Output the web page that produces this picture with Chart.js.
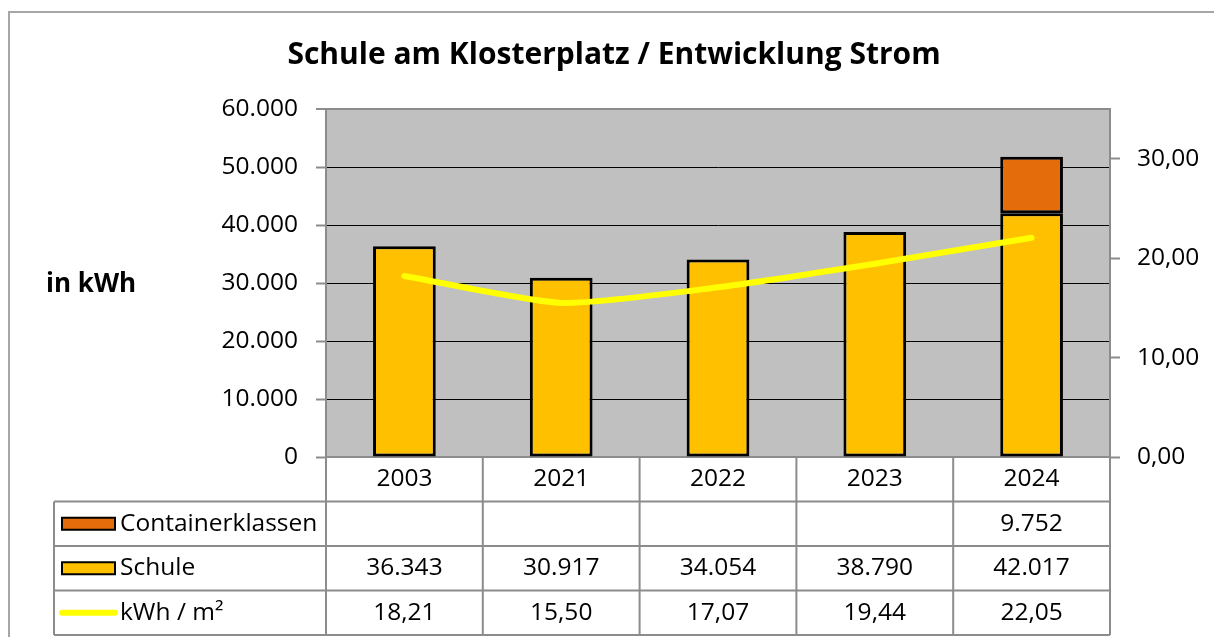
<!DOCTYPE html>
<html lang="de">
<head>
<meta charset="utf-8">
<script src="https://cdn.jsdelivr.net/npm/chart.js@4.4.1/dist/chart.umd.min.js"></script>
<style>
  html, body { margin: 0; padding: 0; background: #fff; overflow: hidden; }
  #frame { position: absolute; left: 8px; top: 11px; width: 1300px; height: 700px; border: 2px solid #a6a6a6; }
  #chart { position: absolute; left: 0; top: 0; }
</style>
</head>
<body>
<div id="frame"></div>
<canvas id="chart" width="1214" height="637"></canvas>
<script>
// Chart data
const years = ['2003', '2021', '2022', '2023', '2024'];
const schule = [36343, 30917, 34054, 38790, 42017];
const container = [null, null, null, null, 9752];
const kwhPerM2 = [18.21, 15.50, 17.07, 19.44, 22.05];
const seriesNames = ['Containerklassen', 'Schule', 'kWh / m²'];

// Axis settings
const leftMax = 60000, leftStep = 10000;
const rightMax = 35, rightStep = 10, rightLastTick = 30;

const FONT = '"Open Sans", "Noto Sans", sans-serif';
const TEXT_SIZE = 24.5;
const GRAY = '#8c8c8c';
const GOLD = '#ffc000';
const ORANGE = '#e46c0a';
const YELLOW = '#ffff00';

function fmtThousands(v) {
    return Math.round(v).toString().replace(/\B(?=(\d{3})+(?!\d))/g, '.');
}
function fmtDecimal(v) {
    return v.toFixed(2).replace('.', ',');
}

// Grey plot background
const plotBackground = {
    id: 'plotBackground',
    beforeDraw(chart) {
        const { ctx, chartArea } = chart;
        ctx.save();
        ctx.fillStyle = '#c0c0c0';
        ctx.fillRect(chartArea.left, chartArea.top, chartArea.right - chartArea.left, chartArea.bottom - chartArea.top);
        ctx.restore();
    }
};

// Title, axis caption and the data table under the plot
const dataTable = {
    id: 'dataTable',
    afterDraw(chart) {
        const { ctx, chartArea, scales } = chart;
        const x = scales.x;
        const colW = (x.right - x.left) / years.length;
        const rowH = 44.5;
        const top = chartArea.bottom;
        const legendLeft = 54;
        const bottom = top + rowH * 4;

        ctx.save();
        ctx.fillStyle = '#000';
        ctx.textBaseline = 'middle';

        // title
        ctx.font = 'bold 30px ' + FONT;
        ctx.textAlign = 'center';
        ctx.fillText('Schule am Klosterplatz / Entwicklung Strom', 614, 55);

        // y axis caption
        ctx.font = 'bold 26px ' + FONT;
        ctx.textAlign = 'left';
        ctx.fillText('in kWh', 46, 285);

        // grid lines of the table
        ctx.strokeStyle = GRAY;
        ctx.lineWidth = 2;
        ctx.beginPath();
        for (let i = 0; i <= years.length; i++) {
            const px = x.left + i * colW;
            ctx.moveTo(px, top);
            ctx.lineTo(px, bottom);
        }
        ctx.moveTo(legendLeft, top + rowH);
        ctx.lineTo(legendLeft, bottom);
        for (let r = 1; r <= 4; r++) {
            ctx.moveTo(legendLeft, top + rowH * r);
            ctx.lineTo(x.right, top + rowH * r);
        }
        ctx.stroke();

        // cell values
        ctx.font = TEXT_SIZE + 'px ' + FONT;
        ctx.textAlign = 'center';
        const rows = [
            container.map(v => v == null ? '' : fmtThousands(v)),
            schule.map(fmtThousands),
            kwhPerM2.map(fmtDecimal)
        ];
        years.forEach((yr, i) => {
            const cx = x.getPixelForValue(i);
            ctx.fillText(yr, cx, top + rowH / 2);
            rows.forEach((row, r) => {
                ctx.fillText(row[i], cx, top + rowH * (r + 1.5));
            });
        });

        // legend keys
        const keyX = 62, keyW = 53, keyH = 12;
        [ORANGE, GOLD].forEach((c, r) => {
            const cy = top + rowH * (r + 1.5);
            ctx.fillStyle = c;
            ctx.fillRect(keyX, cy - keyH / 2, keyW, keyH);
            ctx.strokeStyle = '#000';
            ctx.lineWidth = 2;
            ctx.strokeRect(keyX, cy - keyH / 2, keyW, keyH);
        });
        const ly = top + rowH * 3.5;
        ctx.strokeStyle = YELLOW;
        ctx.lineWidth = 6;
        ctx.lineCap = 'round';
        ctx.beginPath();
        ctx.moveTo(keyX, ly);
        ctx.lineTo(keyX + keyW, ly);
        ctx.stroke();

        ctx.fillStyle = '#000';
        ctx.textAlign = 'left';
        seriesNames.forEach((name, r) => {
            ctx.fillText(name, 120, top + rowH * (r + 1.5));
        });
        ctx.restore();
    }
};

const ctx = document.getElementById('chart').getContext('2d');
new Chart(ctx, {
    data: {
        labels: years,
        datasets: [
            {
                type: 'line',
                label: seriesNames[2],
                data: kwhPerM2,
                yAxisID: 'y1',
                borderColor: YELLOW,
                borderWidth: 6,
                borderCapStyle: 'round',
                borderJoinStyle: 'round',
                tension: 0.2,
                pointRadius: 0,
                fill: false
            },
            {
                type: 'bar',
                label: seriesNames[1],
                data: schule,
                yAxisID: 'y',
                backgroundColor: GOLD,
                borderColor: '#000',
                borderWidth: 3,
                borderSkipped: false,
                barPercentage: 0.4,
                categoryPercentage: 1
            },
            {
                type: 'bar',
                label: seriesNames[0],
                data: container,
                yAxisID: 'y',
                backgroundColor: ORANGE,
                borderColor: '#000',
                borderWidth: 3,
                borderSkipped: false,
                barPercentage: 0.4,
                categoryPercentage: 1
            }
        ]
    },
    options: {
        responsive: false,
        animation: false,
        layout: { padding: { top: 109, left: 0, right: 0, bottom: 0 } },
        plugins: {
            legend: { display: false },
            title: { display: false },
            tooltip: { enabled: false }
        },
        scales: {
            x: {
                stacked: true,
                ticks: { display: false },
                grid: { display: false },
                border: { display: true, color: GRAY, width: 2 },
                afterFit(scale) { scale.height = 180; }
            },
            y: {
                stacked: true,
                position: 'left',
                min: 0,
                max: leftMax,
                ticks: {
                    stepSize: leftStep,
                    padding: 18,
                    color: '#000',
                    font: { family: FONT, size: TEXT_SIZE },
                    callback: v => fmtThousands(v)
                },
                grid: {
                    color: c => c.tick && c.tick.value === leftMax ? GRAY : '#000',
                    lineWidth: c => c.tick && c.tick.value === leftMax ? 2 : 1,
                    tickColor: GRAY,
                    tickWidth: 2,
                    tickLength: 10
                },
                border: { display: true, color: GRAY, width: 2 },
                afterFit(scale) { scale.width = 326; }
            },
            y1: {
                position: 'right',
                min: 0,
                max: rightMax,
                afterBuildTicks(scale) {
                    scale.ticks = scale.ticks.filter(t => t.value <= rightLastTick);
                },
                ticks: {
                    stepSize: rightStep,
                    padding: 17,
                    color: '#000',
                    font: { family: FONT, size: TEXT_SIZE },
                    callback: v => fmtDecimal(v)
                },
                grid: {
                    drawOnChartArea: false,
                    tickColor: GRAY,
                    tickWidth: 2,
                    tickLength: 10
                },
                border: { display: true, color: GRAY, width: 2 },
                afterFit(scale) { scale.width = 104; }
            }
        }
    },
    plugins: [plotBackground, dataTable]
});
</script>
</body>
</html>
